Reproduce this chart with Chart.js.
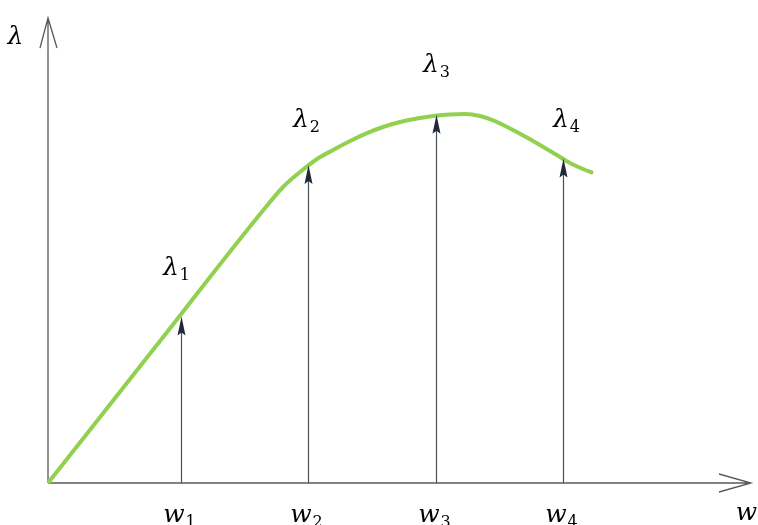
<!DOCTYPE html>
<html>
<head>
<meta charset="utf-8">
<script src="https://cdn.jsdelivr.net/npm/chart.js@4"></script>
<style>
  html, body { margin: 0; padding: 0; background: #fff; }
  #wrap { width: 758px; height: 525px; }
</style>
</head>
<body>
<div id="wrap"><canvas id="lambdaChart"></canvas></div>
<script>
// curve lambda(w)
var curveW   = [0, 0.85, 1.698, 1.839, 1.972, 2.105, 2.230, 2.363, 2.496, 2.621, 2.754, 2.887, 3.028, 3.145, 3.263, 3.380, 3.497, 3.615, 3.732, 3.849, 3.967, 4.084, 4.186, 4.264];
var curveLam = [0, 1.48, 2.957, 3.183, 3.344, 3.484, 3.581, 3.677, 3.763, 3.828, 3.882, 3.919, 3.948, 3.963, 3.968, 3.946, 3.892, 3.812, 3.726, 3.634, 3.538, 3.441, 3.376, 3.333];

// marked points w1..w4 and their lambda values
var markW   = [1.041, 2.034, 3.036, 4.030];
var markLam = [1.79, 3.42, 3.96, 3.49];
var markSub = ['1', '2', '3', '4'];

var xMax = 5.5;
var yMax = 5;

var mainFont = 'italic 25px "DejaVu Serif"';
var subFont = '16px "DejaVu Serif"';

// draws e.g. "λ" with a small "1" after it, centred on cx, baseline at y
function subLabel(ctx, cx, y, main, sub) {
  ctx.font = mainFont;
  var mw = ctx.measureText(main).width;
  ctx.font = subFont;
  var sw = sub ? ctx.measureText(sub).width : 0;
  var x0 = cx - (mw + sw + 1) / 2;
  ctx.fillStyle = '#000';
  ctx.textBaseline = 'alphabetic';
  ctx.textAlign = 'left';
  ctx.font = mainFont;
  ctx.fillText(main, x0, y);
  if (sub) {
    ctx.font = subFont;
    ctx.fillText(sub, x0 + mw + 1, y + 5);
  }
}

var sketchPlugin = {
  id: 'sketch',
  beforeDatasetsDraw: function(chart) {
    var ctx = chart.ctx;
    var a = chart.chartArea;
    ctx.save();
    ctx.strokeStyle = '#5a5a5a';
    ctx.lineWidth = 1.3;
    ctx.beginPath();
    // y axis + open arrow
    ctx.moveTo(a.left, a.bottom);
    ctx.lineTo(a.left, a.top);
    ctx.moveTo(a.left - 8, a.top + 30);
    ctx.lineTo(a.left, a.top);
    ctx.lineTo(a.left + 9, a.top + 30);
    // x axis + open arrow
    ctx.moveTo(a.left, a.bottom);
    ctx.lineTo(a.right, a.bottom);
    ctx.moveTo(a.right - 32, a.bottom - 9);
    ctx.lineTo(a.right, a.bottom);
    ctx.lineTo(a.right - 32, a.bottom + 9);
    ctx.stroke();
    ctx.restore();
  },
  afterDatasetsDraw: function(chart, args, opts) {
    var ctx = chart.ctx;
    var xs = chart.scales.x, ys = chart.scales.y;
    var a = chart.chartArea;
    ctx.save();
    for (var i = 0; i < markW.length; i++) {
      var px = Math.round(xs.getPixelForValue(markW[i])) + 0.5;
      var tip = ys.getPixelForValue(markLam[i]);
      var base = ys.getPixelForValue(0);
      // shaft
      ctx.strokeStyle = '#4a4f57';
      ctx.lineWidth = 1.2;
      ctx.beginPath();
      ctx.moveTo(px, base);
      ctx.lineTo(px, tip + 10);
      ctx.stroke();
      // filled head
      ctx.fillStyle = '#1f2937';
      ctx.beginPath();
      ctx.moveTo(px, tip);
      ctx.lineTo(px + 4, tip + 19);
      ctx.lineTo(px, tip + 16);
      ctx.lineTo(px - 4, tip + 19);
      ctx.closePath();
      ctx.fill();
      // labels
      subLabel(ctx, px + opts.lamDx[i], tip + opts.lamDy[i], '\u03BB', markSub[i]);
      subLabel(ctx, px - 2, a.bottom + 39, 'w', markSub[i]);
    }
    // axis names
    subLabel(ctx, 16, 44, '\u03BB', '');
    subLabel(ctx, 747, a.bottom + 37, 'w', '');
    ctx.restore();
  }
};

var pts = curveW.map(function(w, i) { return { x: w, y: curveLam[i] }; });

new Chart(document.getElementById('lambdaChart').getContext('2d'), {
  type: 'scatter',
  data: {
    datasets: [{
      data: pts,
      showLine: true,
      borderColor: '#92d050',
      borderWidth: 4,
      pointRadius: 0,
      cubicInterpolationMode: 'monotone',
      fill: false,
      clip: false
    }]
  },
  plugins: [sketchPlugin],
  options: {
    responsive: true,
    maintainAspectRatio: false,
    animation: false,
    events: [],
    layout: {
      padding: { left: 48, right: 7, top: 18, bottom: 42 }
    },
    plugins: {
      legend: { display: false },
      tooltip: { enabled: false },
      sketch: {
        lamDx: [-5, -2, 0, 3],
        lamDy: [-42, -38, -43, -31]
      }
    },
    scales: {
      x: { type: 'linear', min: 0, max: xMax, display: false },
      y: { type: 'linear', min: 0, max: yMax, display: false }
    }
  }
});
</script>
</body>
</html>
